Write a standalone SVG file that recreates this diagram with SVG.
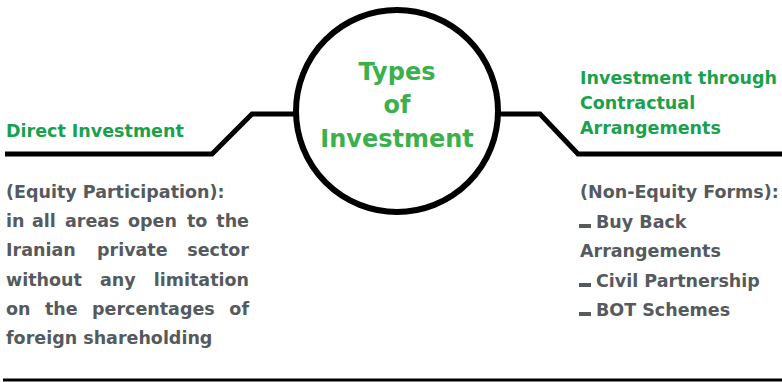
<svg xmlns="http://www.w3.org/2000/svg" width="782" height="382" viewBox="0 0 782 382">
<style>
.t{font-family:"DejaVu Sans","Open Sans",sans-serif;font-weight:700;}
.g{fill:#1aa14d;font-size:17.5px;}
.c{fill:#3cb04c;font-size:24px;}
.b{fill:#555a5e;font-size:17.5px;}
.ln{fill:none;stroke:#000;stroke-width:5;}
</style>
<rect width="782" height="382" fill="#fff"/>
<g id="connectors">
<polyline class="ln" points="5,154 212,154 252,114 296,114"/>
<polyline class="ln" points="498,114 540,114 578,154 782,154"/>
<line x1="3" y1="380" x2="782" y2="380" stroke="#000" stroke-width="3"/>
</g>
<g id="center">
<circle cx="397" cy="111" r="101" fill="#fff" stroke="#000" stroke-width="6"/>
<text class="t c" text-anchor="middle" x="397" y="80">Types</text>
<text class="t c" text-anchor="middle" x="397" y="113">of</text>
<text class="t c" text-anchor="middle" x="397" y="147">Investment</text>
</g>
<g id="direct">
<text class="t g" x="6" y="137">Direct Investment</text>
<text class="t b" x="6" y="198">(Equity Participation):</text>
<text class="t b" x="6" y="227">in</text>
<text class="t b" x="32" y="227">all</text>
<text class="t b" x="65" y="227">areas</text>
<text class="t b" x="128" y="227">open</text>
<text class="t b" x="187" y="227">to</text>
<text class="t b" x="249" y="227" text-anchor="end">the</text>
<text class="t b" x="6" y="256">Iranian</text>
<text class="t b" x="97" y="256">private</text>
<text class="t b" x="249" y="256" text-anchor="end">sector</text>
<text class="t b" x="6" y="286">without</text>
<text class="t b" x="100" y="286">any</text>
<text class="t b" x="249" y="286" text-anchor="end">limitation</text>
<text class="t b" x="6" y="315">on</text>
<text class="t b" x="45" y="315">the</text>
<text class="t b" x="92" y="315">percentages</text>
<text class="t b" x="249" y="315" text-anchor="end">of</text>
<text class="t b" x="6" y="344">foreign shareholding</text>
</g>
<g id="contractual">
<text class="t g" x="580" y="84">Investment through</text>
<text class="t g" x="580" y="109">Contractual</text>
<text class="t g" x="580" y="134">Arrangements</text>
<text class="t b" x="580" y="198">(Non-Equity Forms):</text>
<rect x="579" y="224" width="12" height="4" fill="#555a5e"/>
<text class="t b" x="596" y="228">Buy Back</text>
<text class="t b" x="580" y="257">Arrangements</text>
<rect x="579" y="283" width="12" height="4" fill="#555a5e"/>
<text class="t b" x="596" y="287">Civil Partnership</text>
<rect x="579" y="312" width="12" height="4" fill="#555a5e"/>
<text class="t b" x="596" y="316">BOT Schemes</text>
</g>
</svg>
